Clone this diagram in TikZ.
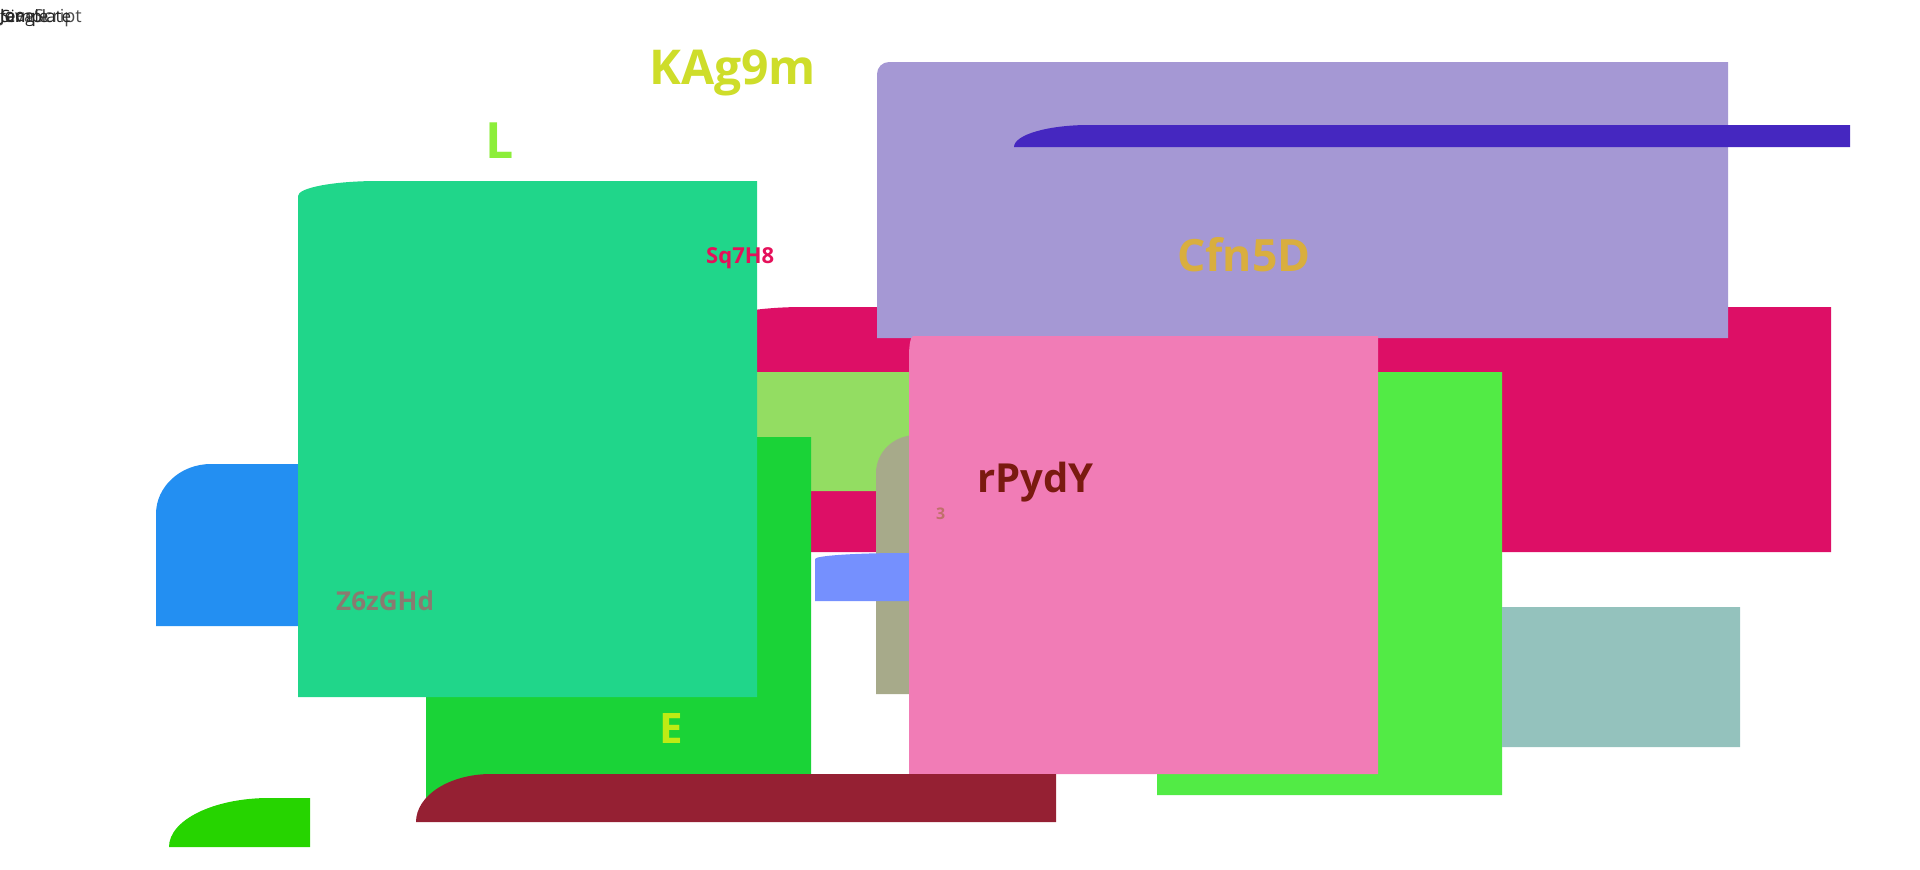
\documentclass[tikz,border=0pt]{standalone}
\usepackage{fontspec}
\setmainfont{Open Sans}
\usepackage{tikz}
\usetikzlibrary{positioning}
\definecolor{lila}{HTML}{A598D4}
\definecolor{anil}{HTML}{4527C0}
\definecolor{carmin}{HTML}{DD0F66}
\definecolor{verdeclaro}{HTML}{93DD62}
\definecolor{verde}{HTML}{1AD337}
\definecolor{azul}{HTML}{238FF2}
\definecolor{turquesa}{HTML}{20D68A}
\definecolor{oliva}{HTML}{A7AA8A}
\definecolor{celeste}{HTML}{7590FE}
\definecolor{rosa}{HTML}{F17CB6}
\definecolor{lima}{HTML}{52EB45}
\definecolor{gristeal}{HTML}{94C2BD}
\definecolor{granate}{HTML}{952033}
\definecolor{cesped}{HTML}{26D400}
\definecolor{txtkag}{HTML}{CEDD2A}
\definecolor{txtele}{HTML}{8CEE3A}
\definecolor{txtsq}{HTML}{E5105A}
\definecolor{txtcfn}{HTML}{D9AE3E}
\definecolor{txtrpy}{HTML}{7A1A10}
\definecolor{txttres}{HTML}{C0706A}
\definecolor{txtzgh}{HTML}{8A7A70}
\definecolor{txtee}{HTML}{BEEB14}
\tikzstyle{etiqueta} = [inner sep=0pt, anchor=base west, font=\bfseries]
% bloque: x1, y1, x2, y2, rx, ry, color (solo la esquina superior izquierda es redonda)
\newcommand{\bloque}[7]{\fill[#7] (#1,#4) -- (#1,#2+#6) arc[start angle=180, end angle=270, x radius=#5, y radius=#6] -- (#3,#2) -- (#3,#4) -- cycle;}
\newcommand{\tam}[1]{\fontsize{#1}{#1}\selectfont}

\begin{document}
\begin{tikzpicture}[x=1pt, y=-1pt]
	\useasboundingbox (0,0) rectangle (1920,870);
	% Bloques
	\bloque{690}{307}{1831}{552}{113}{30}{carmin}
	\bloque{877}{62}{1728}{338}{12}{12}{lila}
	\bloque{1014}{125}{1850}{147}{75}{22}{anil}
	\bloque{700}{372}{909}{491}{0.01}{0.01}{verdeclaro}
	\bloque{426}{437}{811}{810}{0.01}{0.01}{verde}
	\bloque{156}{464}{298}{626}{55}{50}{azul}
	\bloque{298}{181}{757}{697}{80}{15}{turquesa}
	\bloque{876}{435}{909}{694}{40}{38}{oliva}
	\bloque{815}{553}{909}{601}{90}{6}{celeste}
	\bloque{1157}{372}{1502}{795}{0.01}{0.01}{lima}
	\bloque{909}{336}{1378}{774}{4}{20}{rosa}
	\bloque{1502}{607}{1740}{747}{0.01}{0.01}{gristeal}
	\bloque{416}{774}{1056}{822}{75}{48}{granate}
	\bloque{169}{798}{310}{847}{100}{49}{cesped}
	% Textos
	\node (kag) [etiqueta, font=\bfseries\tam{48}, text=txtkag] at (649,84) {KAg9m};
	\node (ele) [etiqueta, font=\bfseries\tam{50}, text=txtele] at (485,158) {L};
	\node (sq) [etiqueta, font=\bfseries\tam{22}, text=txtsq] at (706,263) {Sq7H8};
	\node (cfn) [etiqueta, font=\bfseries\tam{44.5}, text=txtcfn] at (1177,271) {Cfn5D};
	\node (rpy) [etiqueta, font=\bfseries\tam{40}, text=txtrpy] at (977,492) {rPydY};
	\node (tres) [etiqueta, font=\bfseries\tam{16}, text=txttres] at (936,519) {3};
	\node (zgh) [etiqueta, font=\bfseries\tam{26}, text=txtzgh] at (336,610) {Z6zGHd};
	\node (ee) [etiqueta, font=\bfseries\tam{42}, text=txtee] at (659,743) {E};
	% Esquina superior izquierda
	\node (js) [etiqueta, font=\tam{18}, text=black!70] at (0,23) {JavaScript};
	\node (tpl) [etiqueta, font=\tam{17}, text=black!85] at (0,23) {template};
	\node (sgl) [etiqueta, font=\tam{17}, text=black!85] at (1,23) {Single};
	\node (joe) [etiqueta, font=\tam{17}, text=black!85] at (0,21) {Joe};
\end{tikzpicture}
\end{document}
